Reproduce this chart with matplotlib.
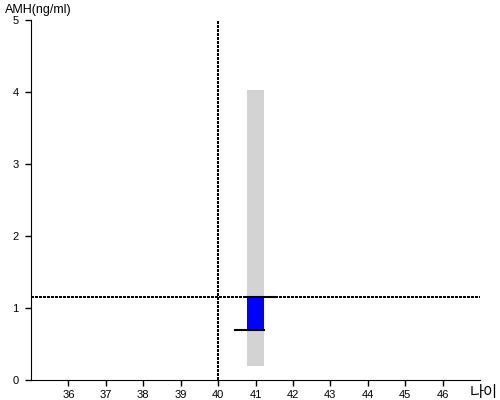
import matplotlib
matplotlib.use("Agg")
import matplotlib.pyplot as plt
import matplotlib.patches as mpatches

plt.rcParams["font.family"] = ["Liberation Sans", "Noto Sans CJK KR", "DejaVu Sans"]

# data
age = 41
range_low, range_high = 0.2, 4.03       # gray reference range
amh_value = 1.15                        # patient AMH
amh_expected = 0.69                     # expected AMH for age
ref_age = 40
x_ticks = list(range(36, 47))
y_ticks = [0, 1, 2, 3, 4, 5]

fig = plt.figure(figsize=(5, 4), dpi=100)
ax = fig.add_axes([0.062, 0.05, 0.898, 0.90])

bar_w = 0.43
ax.add_patch(mpatches.Rectangle((age - bar_w / 2, range_low), bar_w, range_high - range_low,
                                facecolor="#d3d3d3", edgecolor="none", zorder=1))
ax.add_patch(mpatches.Rectangle((age - bar_w / 2, amh_expected), bar_w, amh_value - amh_expected,
                                facecolor="#0000ff", edgecolor="none", zorder=2))
ax.plot([age - bar_w / 2, age + 0.53], [amh_value, amh_value], color="black", lw=1.5, zorder=3)
ax.plot([age - 0.54, age + bar_w / 2], [amh_expected, amh_expected], color="black", lw=1.5, zorder=3)

# dotted reference lines
ax.axhline(amh_value, color="black", ls=(0, (1, 0.8)), lw=1.5, antialiased=False, zorder=4)
ax.axvline(ref_age, color="black", ls=(0, (1, 0.8)), lw=1.5, antialiased=False, zorder=4)

ax.set_xlim(35, 47)
ax.set_ylim(0, 5)
ax.set_xticks(x_ticks)
ax.set_yticks(y_ticks)
ax.tick_params(labelsize=8, length=4, width=1)
ax.tick_params(axis="y", pad=5)
for s in ["top", "right"]:
    ax.spines[s].set_visible(False)

fig.text(0.01, 0.975, "AMH(ng/ml)", fontsize=9, va="center", ha="left")
fig.text(0.995, 0.017, "나이", fontsize=11, va="center", ha="right")

fig.savefig("out.png", dpi=100)
